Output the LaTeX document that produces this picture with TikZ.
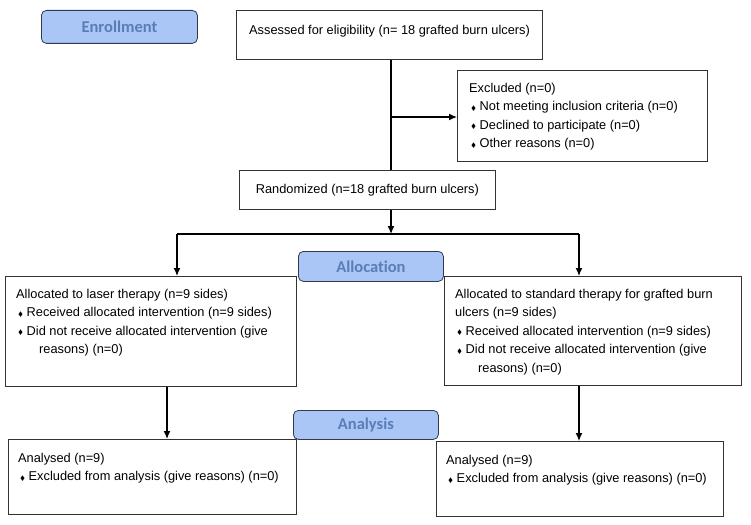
\documentclass[tikz,border=0pt]{standalone}
\usepackage{amssymb}
\usepackage{fontspec}
\setmainfont{Liberation Sans}
\newfontfamily\headfont[Ligatures=NoCommon]{Carlito}
\usetikzlibrary{positioning,arrows.meta}
\definecolor{hdrfill}{HTML}{A9C6F7}
\definecolor{hdrtext}{HTML}{5B7DB6}
\definecolor{hdrdraw}{HTML}{2E3B4E}
\newcommand{\bul}{\hspace{2pt}\raisebox{0.5pt}{\fontsize{6.5}{7}\selectfont$\blacklozenge$}\hspace{3.5pt}}
\tikzset{
    box/.style = {draw=black!80, line width=0.8pt, inner sep=0pt, anchor=north west},
    txt/.style = {inner sep=0pt, anchor=north west, align=left,
        font=\fontsize{12.8}{18.5}\selectfont},
    hdr/.style = {draw=hdrdraw, fill=hdrfill, rounded corners=5pt, line width=0.8pt,
        text=hdrtext, font=\headfont\bfseries\fontsize{16.5}{16.5}\selectfont,
        inner sep=0pt, anchor=north west},
    arrow/.style = {draw, line width=1.3pt, -{Latex[length=8pt,width=7pt]}},
    line/.style = {draw, line width=1.3pt}
}

\begin{document}
\begin{tikzpicture}[x=1pt,y=-1pt]
    \useasboundingbox (0,0) rectangle (751,524);
    % boxes
    \node[box, minimum width=306, minimum height=49] (assess) at (236,10) {};
    \node[box, minimum width=250, minimum height=91] (excl) at (457,70) {};
    \node[box, minimum width=256, minimum height=39, anchor=north west,
          font=\fontsize{12.8}{18.5}\selectfont] (rand) at (239,170)
          {Randomized (n=18 grafted burn ulcers)};
    \node[box, minimum width=291, minimum height=110] (allocL) at (5,276) {};
    \node[box, minimum width=297, minimum height=109] (allocR) at (444,276) {};
    \node[box, minimum width=288, minimum height=75] (anaL) at (8,439) {};
    \node[box, minimum width=287, minimum height=75] (anaR) at (436,441) {};
    % texts
    \node[txt, below right=15pt and 13pt of assess.north west] (assesstxt)
        {Assessed for eligibility (n= 18 grafted burn ulcers)};
    \node[txt, below right=13pt and 12pt of excl.north west] (excltxt)
        {Excluded (n=0)\\
         \bul Not meeting inclusion criteria (n=0)\\
         \bul Declined to participate (n=0)\\
         \bul Other reasons (n=0)};
    \node[txt, below right=13pt and 11pt of allocL.north west] (allocLtxt)
        {Allocated to laser therapy (n=9 sides)\\
         \bul Received allocated intervention (n=9 sides)\\
         \bul Did not receive allocated intervention (give\\
         \hspace{23pt}reasons) (n=0)};
    \node[txt, below right=13pt and 11pt of allocR.north west] (allocRtxt)
        {Allocated to standard therapy for grafted burn\\
         ulcers (n=9 sides)\\
         \bul Received allocated intervention (n=9 sides)\\
         \bul Did not receive allocated intervention (give\\
         \hspace{23pt}reasons) (n=0)};
    \node[txt, below right=14pt and 10pt of anaL.north west] (anaLtxt)
        {Analysed (n=9)\\
         \bul Excluded from analysis (give reasons) (n=0)};
    \node[txt, below right=14pt and 10pt of anaR.north west] (anaRtxt)
        {Analysed (n=9)\\
         \bul Excluded from analysis (give reasons) (n=0)};
    % connectors
    \coordinate (trunk) at (391,117);
    \coordinate (split) at (391,234);
    \coordinate (splitL) at (177,234);
    \coordinate (splitR) at (579,234);
    \draw[line] (assess.south -| trunk) -- (rand.north -| trunk);
    \draw[arrow] (trunk) -- (trunk -| excl.west);
    \draw[arrow] (rand.south -| split) -- (split);
    \draw[line] (splitL) -- (splitR);
    \draw[arrow] (splitL) -- (allocL.north -| splitL);
    \draw[arrow] (splitR) -- (allocR.north -| splitR);
    \draw[arrow] (allocL.south -| 167,0) -- (anaL.north -| 167,0);
    \draw[arrow] (allocR.south -| splitR) -- (anaR.north -| splitR);
    % stage headers
    \node[hdr, minimum width=156, minimum height=33] (enroll) at (41,10) {Enrollment};
    \node[hdr, minimum width=145, minimum height=30] (allocation) at (298,251) {Allocation};
    \node[hdr, minimum width=145, minimum height=29] (analysis) at (293,410) {Analysis};
\end{tikzpicture}
\end{document}
